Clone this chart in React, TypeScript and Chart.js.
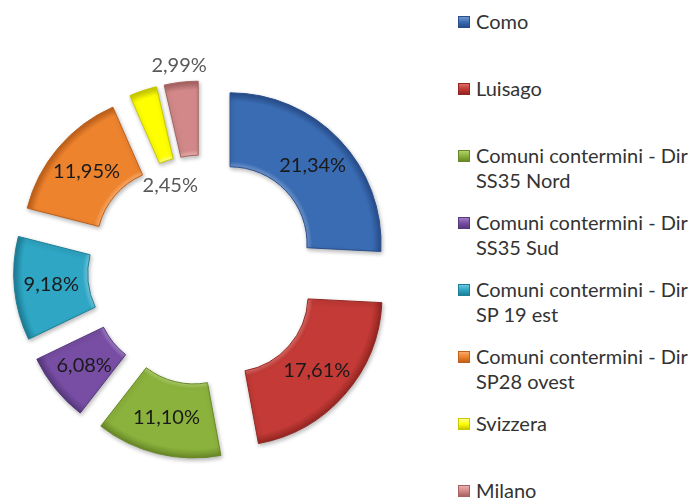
import React, { useEffect, useRef } from 'react';
import { Chart, registerables } from 'chart.js';

Chart.register(...registerables);

// ---- data ----
const categories: string[] = [
  'Como',
  'Luisago',
  'Comuni contermini - Dir SS35 Nord',
  'Comuni contermini - Dir SS35 Sud',
  'Comuni contermini - Dir SP 19 est',
  'Comuni contermini - Dir SP28 ovest',
  'Svizzera',
  'Milano',
];
const values: number[] = [21.34, 17.61, 11.1, 6.08, 9.18, 11.95, 2.45, 2.99];

// ---- styles ----
const baseColors = ['#3A6CB3', '#C33A36', '#8BB23C', '#784EA4', '#2EA6C4', '#EE832E', '#FFFF00', '#D28888'];
const lightColors = ['#6F97CF', '#DC6A66', '#B0D16A', '#A07DC6', '#6CC7DD', '#F8AA6A', '#FFFF88', '#E8B0B0'];
const darkColors = ['#284E8C', '#942622', '#688828', '#57387E', '#1E7E97', '#BE601A', '#C8C800', '#A66262'];

const EXPLODE = 38;
const FONT = 'Lato, "Open Sans", sans-serif';

const fmt = (v: number) => v.toFixed(2).replace('.', ',') + '%';

const explodePlugin = {
  id: 'explodeBevel',
  beforeDatasetsDraw(chart: any) {
    const { chartArea, ctx } = chart;
    const cx = (chartArea.left + chartArea.right) / 2;
    const cy = (chartArea.top + chartArea.bottom) / 2;
    const meta = chart.getDatasetMeta(0);
    meta.data.forEach((arc: any, i: number) => {
      const mid = (arc.startAngle + arc.endAngle) / 2;
      arc.x = cx + Math.cos(mid) * EXPLODE;
      arc.y = cy + Math.sin(mid) * EXPLODE;
      const g = ctx.createRadialGradient(arc.x, arc.y, arc.innerRadius, arc.x, arc.y, arc.outerRadius);
      g.addColorStop(0, lightColors[i]);
      g.addColorStop(0.07, baseColors[i]);
      g.addColorStop(0.88, baseColors[i]);
      g.addColorStop(1, darkColors[i]);
      arc.options = { ...arc.options, backgroundColor: g, borderColor: darkColors[i] };
    });
    ctx.save();
    ctx.shadowColor = 'rgba(0,0,0,0.28)';
    ctx.shadowBlur = 4;
    ctx.shadowOffsetX = 1;
    ctx.shadowOffsetY = 2;
  },
  afterDatasetsDraw(chart: any) {
    const { ctx } = chart;
    ctx.restore();
    const meta = chart.getDatasetMeta(0);
    ctx.save();
    ctx.font = `20px ${FONT}`;
    ctx.textAlign = 'center';
    ctx.textBaseline = 'middle';
    meta.data.forEach((arc: any, i: number) => {
      let mid = (arc.startAngle + arc.endAngle) / 2;
      let r = (arc.innerRadius + arc.outerRadius) / 2;
      let color = '#1a1a1a';
      if (i === 6) { r = arc.innerRadius - 25; mid -= 0.08; color = '#595959'; }
      if (i === 7) { r = arc.outerRadius + 17; color = '#595959'; }
      ctx.fillStyle = color;
      ctx.fillText(fmt(values[i]), arc.x + Math.cos(mid) * r, arc.y + Math.sin(mid) * r);
    });
    ctx.restore();
  },
};

export default function App() {
  const ref = useRef<HTMLCanvasElement | null>(null);

  useEffect(() => {
    if (!ref.current) return;
    const chart = new Chart(ref.current, {
      type: 'doughnut',
      data: {
        labels: categories,
        datasets: [
          {
            data: values,
            backgroundColor: baseColors,
            borderColor: darkColors,
            borderWidth: 1,
          },
        ],
      },
      options: {
        animation: false,
        responsive: false,
        maintainAspectRatio: false,
        events: [],
        radius: 151,
        cutout: '51%',
        layout: { padding: { top: 40, right: 35, left: 0, bottom: 0 } },
        plugins: {
          legend: { display: false },
          tooltip: { enabled: false },
        },
      } as any,
      plugins: [explodePlugin],
    });
    return () => chart.destroy();
  }, []);

  return (
    <div style={{ position: 'absolute', left: 0, top: 0, width: 694, height: 500, background: '#fff', overflow: 'hidden' }}>
      <canvas ref={ref} width={440} height={500} style={{ position: 'absolute', left: 0, top: 0, width: 440, height: 500 }} />
      <div style={{ position: 'absolute', left: 458, top: 9, width: 236 }}>
        {categories.map((name, i) => (
          <div key={name} style={{ position: 'relative', height: 67 }}>
            <span
              style={{
                position: 'absolute',
                left: 0,
                top: 7,
                width: 10,
                height: 10,
                border: `1px solid ${darkColors[i]}`,
                background: `linear-gradient(180deg, ${lightColors[i]} 0%, ${baseColors[i]} 50%, ${darkColors[i]} 100%)`,
              }}
            />
            <div
              style={{
                position: 'absolute',
                left: 18,
                top: 0,
                font: `20px ${FONT}`,
                lineHeight: '25px',
                color: '#333',
                whiteSpace: 'pre',
              }}
            >
              {name.replace(' - Dir ', ' - Dir\n')}
            </div>
          </div>
        ))}
      </div>
    </div>
  );
}
